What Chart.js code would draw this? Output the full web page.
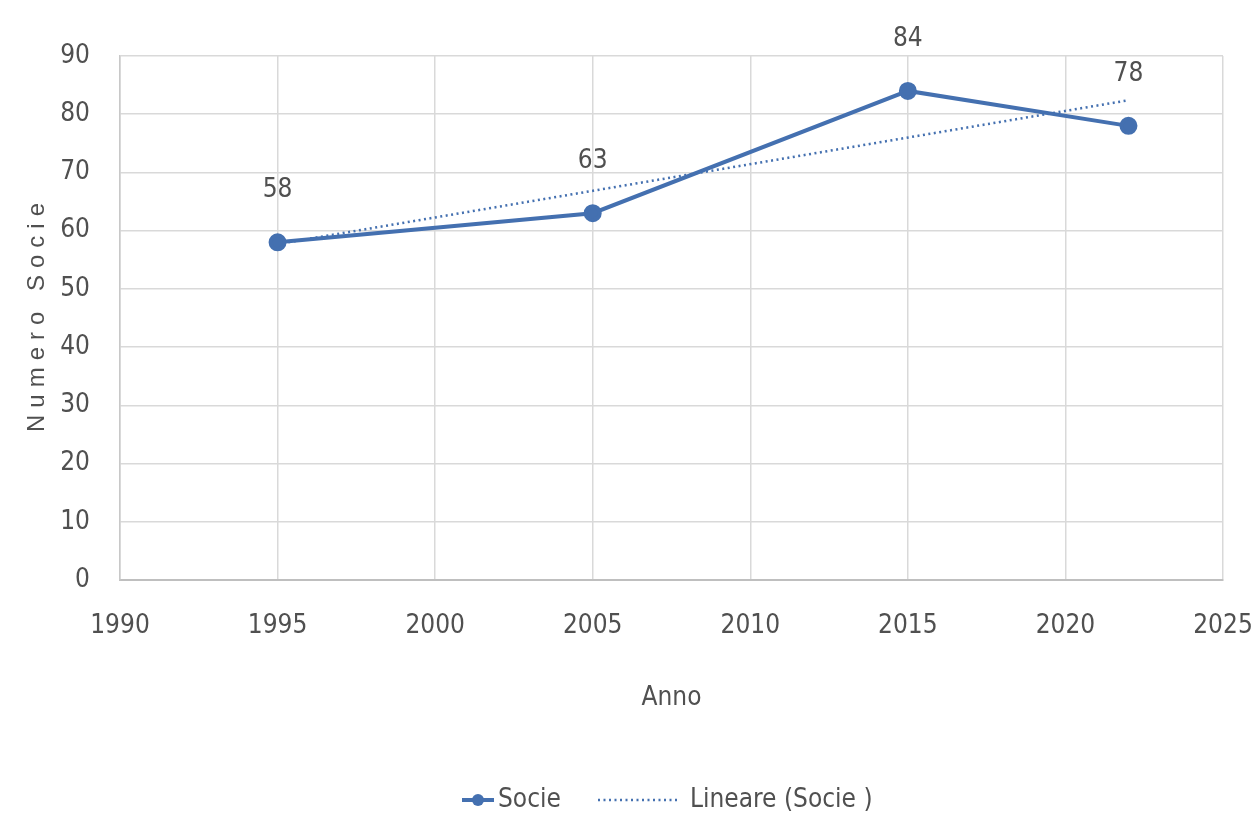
<!DOCTYPE html>
<html>
<head>
<meta charset="utf-8">
<script src="https://cdn.jsdelivr.net/npm/chart.js@4/dist/chart.umd.min.js"></script>
<style>
  body { margin: 0; background: #fff; }
  #wrap { width: 1258px; height: 832px; }
</style>
</head>
<body>
<div id="wrap"><canvas id="my-chart"></canvas></div>
<script>
var anni = [1995, 2005, 2015, 2022];
var socie = [58, 63, 84, 78];
// trend line (Lineare) read at its two ends
var trendAnni = [1995, 2022];
var trendSocie = [57.7, 82.4];
var xTicks = [1990, 1995, 2000, 2005, 2010, 2015, 2020, 2025];

var FONT = "'Liberation Sans Narrow', 'DejaVu Sans Condensed', 'Liberation Sans', sans-serif";
var FSIZE = 26;
var BLUE = '#4470b0';
var GRID = '#d9d9d9';
var TEXT = '#505050';

var pts = function(xs, ys) {
  var out = [];
  for (var i = 0; i < xs.length; i++) out.push({x: xs[i], y: ys[i]});
  return out;
};

// value labels above the Socie points
var valueLabels = {
  id: 'valueLabels',
  afterDatasetsDraw: function(chart) {
    var ctx = chart.ctx;
    var meta = chart.getDatasetMeta(0);
    ctx.save();
    ctx.font = FSIZE + 'px ' + FONT;
    ctx.fillStyle = TEXT;
    ctx.textAlign = 'center';
    ctx.textBaseline = 'middle';
    for (var i = 0; i < meta.data.length; i++) {
      var p = meta.data[i];
      ctx.fillText(String(socie[i]), p.x, p.y - 52);
    }
    ctx.restore();
  }
};

// y title with letter spacing + legend at the bottom
var extras = {
  id: 'extras',
  afterDraw: function(chart) {
    var ctx = chart.ctx;
    var area = chart.chartArea;
    ctx.save();
    ctx.translate(37, (area.top + area.bottom) / 2);
    ctx.rotate(-Math.PI / 2);
    ctx.font = "24px 'Liberation Sans', sans-serif";
    ctx.letterSpacing = '7px';
    ctx.fillStyle = TEXT;
    ctx.textAlign = 'center';
    ctx.textBaseline = 'middle';
    ctx.fillText('Numero Socie', 4, 0);
    ctx.restore();

    // legend
    var ds = chart.data.datasets;
    var y = 800;
    ctx.save();
    ctx.font = FSIZE + 'px ' + FONT;
    ctx.fillStyle = TEXT;
    ctx.textBaseline = 'middle';
    var x = 462;
    ctx.strokeStyle = BLUE;
    ctx.lineWidth = 4;
    ctx.beginPath(); ctx.moveTo(x, y); ctx.lineTo(x + 32, y); ctx.stroke();
    ctx.fillStyle = BLUE;
    ctx.beginPath(); ctx.arc(x + 16, y, 6, 0, Math.PI * 2); ctx.fill();
    ctx.fillStyle = TEXT;
    ctx.fillText(ds[0].label, x + 36, y);
    x = 598;
    ctx.lineWidth = 2.5;
    ctx.setLineDash([2, 3.5]);
    ctx.beginPath(); ctx.moveTo(x, y); ctx.lineTo(x + 82, y); ctx.stroke();
    ctx.setLineDash([]);
    ctx.fillText(ds[1].label, x + 92, y);
    ctx.restore();
  }
};

var create = function() {
  var ctx = document.getElementById('my-chart');
  var myChart = new Chart(ctx, {
    type: 'scatter',
    data: {
      datasets: [
        {
          label: 'Socie',
          data: pts(anni, socie),
          showLine: true,
          borderColor: BLUE,
          backgroundColor: BLUE,
          borderWidth: 4,
          pointRadius: 7,
          pointHoverRadius: 7,
          order: 0
        },
        {
          label: 'Lineare (Socie )',
          data: pts(trendAnni, trendSocie),
          showLine: true,
          borderColor: BLUE,
          borderWidth: 2.5,
          borderDash: [2, 3.5],
          pointRadius: 0,
          order: 1
        }
      ]
    },
    options: {
      responsive: true,
      maintainAspectRatio: false,
      animation: false,
      layout: { padding: { left: 0, right: 0, top: 56, bottom: 118 } },
      plugins: { legend: { display: false }, tooltip: { enabled: false } },
      scales: {
        x: {
          type: 'linear',
          min: 1990,
          max: 2025,
          afterBuildTicks: function(scale) {
            scale.ticks = xTicks.map(function(v) { return {value: v}; });
          },
          afterFit: function(scale) {
            scale.height = 134;
            scale.paddingLeft = 0;
            scale.paddingRight = 35;
          },
          ticks: {
            padding: 31,
            color: TEXT,
            font: { family: FONT, size: FSIZE },
            maxRotation: 0,
            callback: function(v) { return String(v); }
          },
          grid: { color: GRID, lineWidth: 1.5, drawTicks: false },
          border: { color: '#bfbfbf', width: 2 },
          title: {
            display: true,
            text: 'Anno',
            color: TEXT,
            font: { family: FONT, size: FSIZE },
            padding: { top: 0, bottom: 0 }
          }
        },
        y: {
          min: 0,
          max: 90,
          afterFit: function(scale) { scale.width = 120; },
          ticks: {
            stepSize: 10,
            padding: 30,
            color: TEXT,
            font: { family: FONT, size: FSIZE }
          },
          grid: { color: GRID, lineWidth: 1.5, drawTicks: false },
          border: { color: '#c8c8c8', width: 1.5 }
        }
      }
    },
    plugins: [valueLabels, extras]
  });
};

create();
</script>
</body>
</html>
